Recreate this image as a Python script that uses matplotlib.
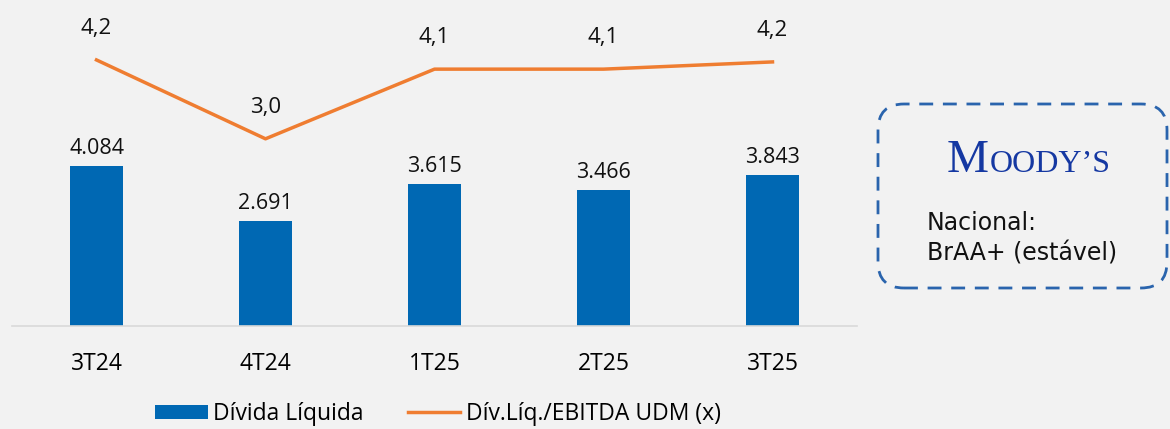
import matplotlib.pyplot as plt
from matplotlib.patches import FancyBboxPatch

plt.rcParams['font.family'] = ['Open Sans', 'DejaVu Sans']

# data
quarters = ['3T24', '4T24', '1T25', '2T25', '3T25']
net_debt = [4084, 2691, 3615, 3466, 3843]
leverage = [4.20, 3.00, 4.06, 4.06, 4.17]

def br_thousands(v):
    return f'{v:,}'.replace(',', '.')

def br_decimal(v):
    return f'{v:.1f}'.replace('.', ',')

bg = '#f2f2f2'
bar_color = '#0068b3'
line_color = '#ef7d31'

fig = plt.figure(figsize=(11.7, 4.29), dpi=100, facecolor=bg)
ax = fig.add_axes([12/1170, 1 - 326/429, 845/1170, 326/429])
ax.set_facecolor(bg)

x = list(range(len(quarters)))
ax.bar(x, net_debt, width=0.31, color=bar_color, label='Dívida Líquida', zorder=2)
ax.set_xlim(-0.5, len(quarters) - 0.5)
ax.set_ylim(0, 8316)
for xi, v in zip(x, net_debt):
    ax.annotate(br_thousands(v), (xi, v), xytext=(0, 5), textcoords='offset points',
                ha='center', va='bottom', fontsize=15.5, color='#111111')

ax.set_xticks(x)
ax.set_xticklabels(quarters, fontsize=16.5)
ax.tick_params(axis='x', length=0, pad=19)
ax.set_yticks([])
for s in ['top', 'right', 'left']:
    ax.spines[s].set_visible(False)
ax.spines['bottom'].set_color('#d9d9d9')
ax.spines['bottom'].set_linewidth(1.2)

ax2 = ax.twinx()
ax2.set_ylim(0.152, 5.112)
ax2.plot(x, leverage, color=line_color, lw=2.5, label='Dív.Líq./EBITDA UDM (x)', zorder=3)
for xi, v in zip(x, leverage):
    ax2.annotate(br_decimal(v), (xi, v), xytext=(0, 15), textcoords='offset points',
                 ha='center', va='bottom', fontsize=16, color='#111111')
ax2.set_yticks([])
for s in ['top', 'right', 'left', 'bottom']:
    ax2.spines[s].set_visible(False)

h1, l1 = ax.get_legend_handles_labels()
h2, l2 = ax2.get_legend_handles_labels()
fig.legend(h1 + h2, l1 + l2, loc='center', bbox_to_anchor=(438/1170, 1 - 414/429),
           ncol=2, frameon=False, fontsize=16.5, handlelength=2.3, handleheight=0.6,
           handletextpad=0.25, columnspacing=1.9, borderpad=0)

# Moody's rating box
bx = fig.add_axes([870/1170, 1 - 296/429, 300/1170, 200/429])
bx.set_xlim(0, 300)
bx.set_ylim(0, 200)
bx.axis('off')
bx.add_patch(FancyBboxPatch((8, 8), 289, 184, boxstyle='round,pad=0,rounding_size=26',
                            fill=False, ec='#2a64ad', lw=2, ls=(0, (5, 3.5)), clip_on=False))
bx.text(77, 124, 'M', fontsize=34, family='Liberation Serif', color='#1538a2',
        ha='left', va='baseline')
bx.text(120, 124, 'OODY’S', fontsize=23, family='Liberation Serif', color='#1538a2',
        ha='left', va='baseline')
bx.text(57, 73, 'Nacional:', fontsize=17, family='DejaVu Sans', ha='left', va='center',
        color='#111111')
bx.text(57, 43, 'BrAA+ (estável)', fontsize=17, family='DejaVu Sans', ha='left', va='center',
        color='#111111')

fig.savefig('out.png', dpi=100, facecolor=bg)
